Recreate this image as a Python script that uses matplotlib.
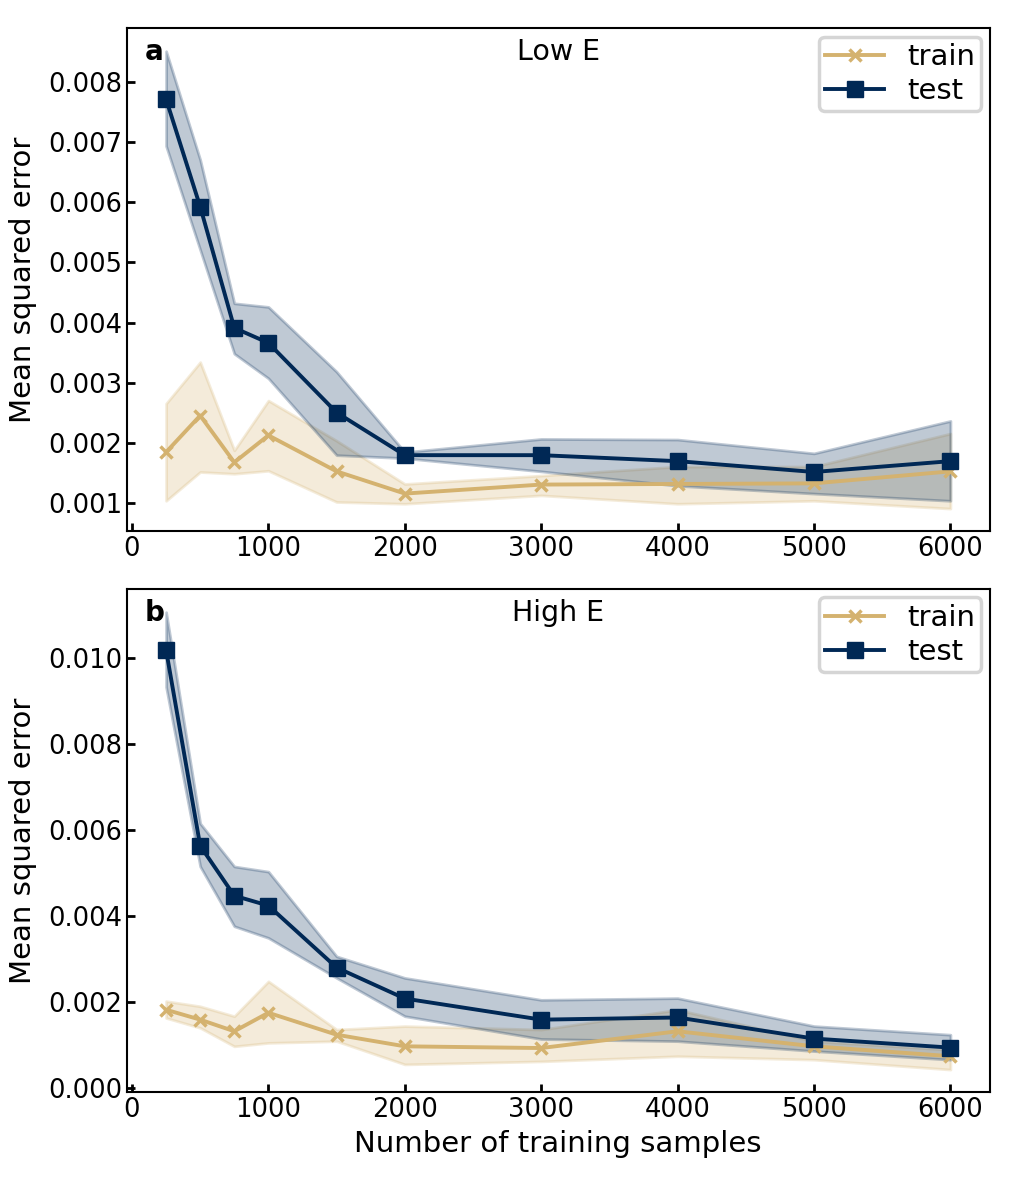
import matplotlib.pyplot as plt
import numpy as np

samples = [250, 500, 750, 1000, 1500, 2000, 3000, 4000, 5000, 6000]

# panel a: Low E
low_train = [0.00184, 0.00245, 0.00167, 0.00212, 0.00152, 0.00115, 0.00130, 0.00131, 0.00132, 0.00152]
low_train_hi = [0.00265, 0.00334, 0.00187, 0.00270, 0.00203, 0.00131, 0.00145, 0.00160, 0.00160, 0.00215]
low_train_lo = [0.00103, 0.00151, 0.00148, 0.00153, 0.00101, 0.00098, 0.00112, 0.00098, 0.00103, 0.00090]
low_test = [0.00772, 0.00593, 0.00391, 0.00366, 0.00250, 0.00179, 0.00179, 0.00169, 0.00151, 0.00169]
low_test_hi = [0.00852, 0.00671, 0.00432, 0.00426, 0.00318, 0.00184, 0.00206, 0.00205, 0.00182, 0.00236]
low_test_lo = [0.00694, 0.00521, 0.00348, 0.00307, 0.00179, 0.00174, 0.00152, 0.00128, 0.00115, 0.00103]

# panel b: High E
high_train = [0.00183, 0.00160, 0.00133, 0.00176, 0.00125, 0.00098, 0.00094, 0.00133, 0.00098, 0.00075]
high_train_hi = [0.00203, 0.00191, 0.00168, 0.00249, 0.00137, 0.00145, 0.00137, 0.00183, 0.00110, 0.00090]
high_train_lo = [0.00164, 0.00141, 0.00098, 0.00106, 0.00110, 0.00056, 0.00063, 0.00075, 0.00067, 0.00044]
high_test = [0.01019, 0.00564, 0.00448, 0.00425, 0.00281, 0.00209, 0.00160, 0.00165, 0.00116, 0.00095]
high_test_hi = [0.01107, 0.00616, 0.00516, 0.00504, 0.00307, 0.00257, 0.00206, 0.00210, 0.00145, 0.00125]
high_test_lo = [0.00933, 0.00516, 0.00377, 0.00350, 0.00257, 0.00168, 0.00115, 0.00110, 0.00087, 0.00067]

panels = [
    ('a', 'Low E', low_train, low_train_lo, low_train_hi, low_test, low_test_lo, low_test_hi),
    ('b', 'High E', high_train, high_train_lo, high_train_hi, high_test, high_test_lo, high_test_hi),
]

c_train = '#D4B26F'
c_test = '#002855'

fig = plt.figure(figsize=(10.15, 11.81), dpi=100)
boxes = [[0.125, 0.550, 0.850, 0.426], [0.125, 0.075, 0.850, 0.426]]

for box, (tag, title, tr, tr_lo, tr_hi, te, te_lo, te_hi) in zip(boxes, panels):
    ax = fig.add_axes(box)
    ax.fill_between(samples, tr_lo, tr_hi, color=c_train, alpha=0.25, linewidth=2)
    ax.plot(samples, tr, color=c_train, marker='x', markersize=8, markeredgewidth=2.5,
            linewidth=2.8, label='train')
    ax.fill_between(samples, te_lo, te_hi, color=c_test, alpha=0.25, linewidth=2)
    ax.plot(samples, te, color=c_test, marker='s', markersize=11, linewidth=2.8, label='test')
    ax.text(0.021, 0.952, tag, transform=ax.transAxes, fontsize=20, fontweight='bold', va='center')
    ax.text(0.5, 0.952, title, transform=ax.transAxes, fontsize=20.5, ha='center', va='center')
    ax.set_ylabel('Mean squared error', fontsize=21, labelpad=8)
    ax.tick_params(direction='in', labelsize=18.5, width=2, length=6)
    ax.set_xticks([0, 1000, 2000, 3000, 4000, 5000, 6000])
    for s in ax.spines.values():
        s.set_linewidth(1.5)
    leg = ax.legend(loc='upper right', fontsize=21, borderaxespad=0.28, borderpad=0.22,
                    labelspacing=0.2, handlelength=2, handletextpad=0.8, framealpha=1)
    leg.get_frame().set_edgecolor('#d5d5d5')
    leg.get_frame().set_linewidth(2.5)
    if tag == 'a':
        ax.set_yticks(np.arange(0.001, 0.0085, 0.001))
    else:
        ax.set_yticks(np.arange(0.0, 0.0105, 0.002))
        ax.set_xlabel('Number of training samples', fontsize=21, labelpad=5)
    ax.yaxis.set_major_formatter(plt.FormatStrFormatter('%.3f'))

fig.savefig('out.png', dpi=100)
